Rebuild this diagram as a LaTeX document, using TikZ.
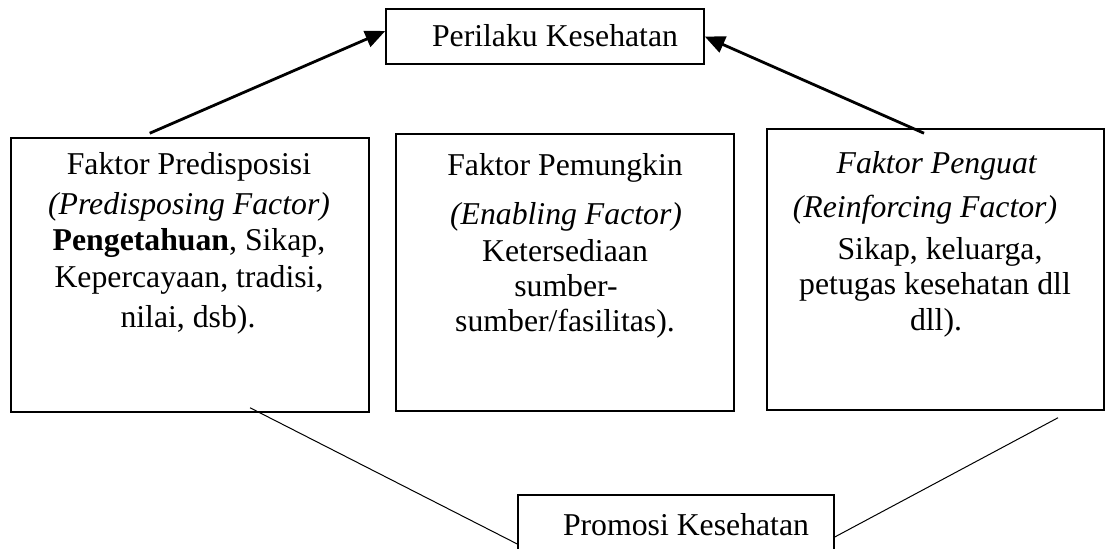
\documentclass[tikz,border=0pt]{standalone}
\usepackage{fontspec}
\setmainfont{Liberation Serif}
\usetikzlibrary{calc,arrows.meta}
\begin{document}
\begin{tikzpicture}[x=0.5pt,y=-0.5pt,
  box/.style={draw,line width=0.75pt,inner sep=0pt},
  txt/.style={anchor=base,inner sep=0pt,font=\fontsize{15.875}{19}\selectfont},
  arr/.style={line width=1.4pt,-{Triangle[length=10pt,width=8.5pt]}},
  thin/.style={line width=0.5pt}]
\useasboundingbox (0,0) rectangle (1106,549);
\clip (0,0) rectangle (1106,549);
\fill[white] (0,0) rectangle (1106,549);
% boxes
\node[box,minimum width=159pt,minimum height=27.5pt] (perilaku) at (545,36.5) {};
\node[box,minimum width=179pt,minimum height=137pt] (pred) at (190,275) {};
\node[box,minimum width=169pt,minimum height=138.5pt] (enab) at (565,272.5) {};
\node[box,minimum width=168.5pt,minimum height=140.5pt] (reinf) at (935.5,269.5) {};
\node[box,minimum width=158pt,minimum height=35pt] (promosi) at (676,530) {};
% texts
\node[txt] (tper) at (555,47) {Perilaku Kesehatan};
\node[txt] (tpro) at (686,535) {Promosi Kesehatan};
\node[txt] (p1) at (189,175) {Faktor Predisposisi};
\node[txt] (p2) at (189,215) {\textit{(Predisposing Factor)}};
\node[txt] (p3) at (189,251) {\textbf{Pengetahuan}, Sikap,};
\node[txt] (p4) at (189,288) {Kepercayaan, tradisi,};
\node[txt] (p5) at (188,328) {nilai, dsb).};
\node[txt] (e1) at (565,176) {Faktor Pemungkin};
\node[txt] (e2) at (566,225) {\textit{(Enabling Factor)}};
\node[txt] (e3) at (565,262) {Ketersediaan};
\node[txt] (e4) at (566,297) {sumber-};
\node[txt] (e5) at (565,332) {sumber/fasilitas).};
\node[txt] (r1) at (937,174) {\textit{Faktor Penguat}};
\node[txt] (r2) at (925,218) {\textit{(Reinforcing Factor)}};
\node[txt] (r3) at (940,260) {Sikap, keluarga,};
\node[txt] (r4) at (935,295) {petugas kesehatan dll};
\node[txt] (r5) at (936,331) {dll).};
% connectors
\coordinate (a1) at ($(pred.north west)!0.388!(pred.north east)+(0,-4)$);
\coordinate (a2) at ($(reinf.north)+(-11.5,5)$);
\coordinate (b1) at ($(pred.south)+(60,-5)$);
\coordinate (b2) at ($(reinf.south)+(122.5,7)$);
\draw[arr] (a1) -- ([yshift=2.75pt]perilaku.west);
\draw[arr] (a2) -- (perilaku.east);
\draw[thin] (b1) -- ([yshift=-7pt]promosi.west);
\draw[thin] (b2) -- ([yshift=-3.5pt]promosi.east);
\end{tikzpicture}
\end{document}
